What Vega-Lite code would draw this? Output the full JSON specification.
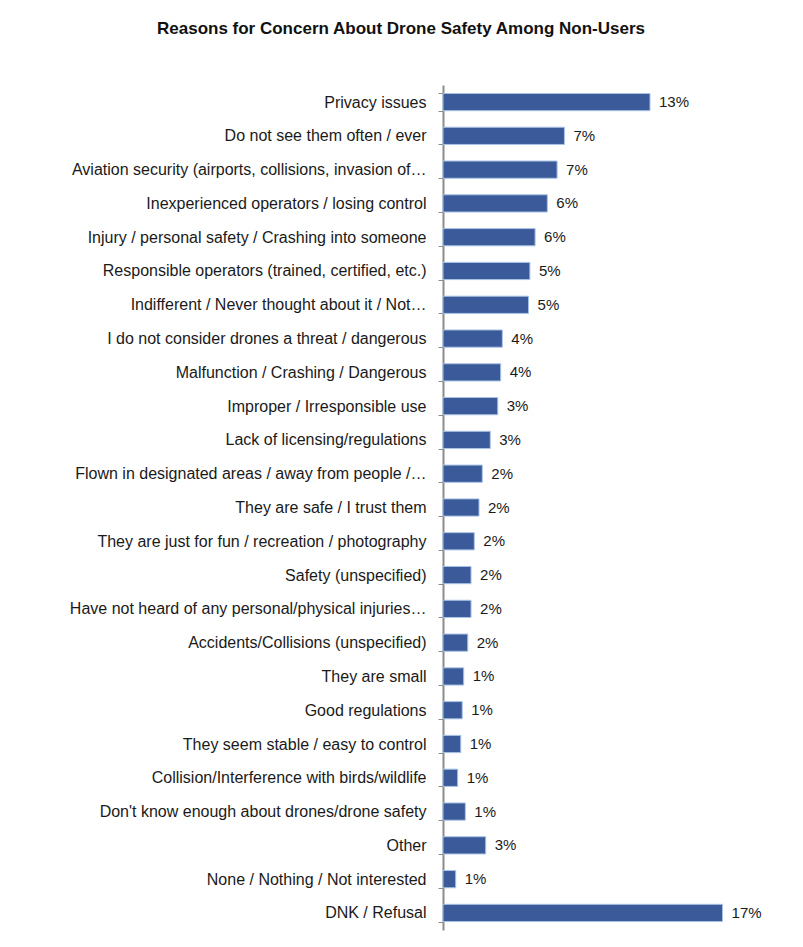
{
  "$schema": "https://vega.github.io/schema/vega-lite/v6.json",
  "padding": {"left": 5, "top": 20, "right": 5, "bottom": 5},
  "background": "white",
  "width": 326,
  "height": 845,
  "title": {
    "text": "Reasons for Concern About Drone Safety Among Non-Users",
    "font": "Liberation Sans",
    "fontSize": 17,
    "fontWeight": "bold",
    "color": "#111111",
    "anchor": "middle",
    "frame": "group",
    "dx": -205,
    "offset": 39
  },
  "data": {
    "values": [
      {"reason": "Privacy issues", "share": 0.127},
      {"reason": "Do not see them often / ever", "share": 0.0745},
      {"reason": "Aviation security (airports, collisions, invasion of…", "share": 0.070},
      {"reason": "Inexperienced operators / losing control", "share": 0.064},
      {"reason": "Injury / personal safety / Crashing into someone", "share": 0.0565},
      {"reason": "Responsible operators (trained, certified, etc.)", "share": 0.0533},
      {"reason": "Indifferent / Never thought about it / Not…", "share": 0.0525},
      {"reason": "I do not consider drones a threat / dangerous", "share": 0.0364},
      {"reason": "Malfunction / Crashing / Dangerous", "share": 0.0354},
      {"reason": "Improper / Irresponsible use", "share": 0.0336},
      {"reason": "Lack of licensing/regulations", "share": 0.029},
      {"reason": "Flown in designated areas / away from people /…", "share": 0.0241},
      {"reason": "They are safe / I trust them", "share": 0.0221},
      {"reason": "They are just for fun / recreation / photography", "share": 0.0192},
      {"reason": "Safety (unspecified)", "share": 0.0172},
      {"reason": "Have not heard of any personal/physical injuries…", "share": 0.0172},
      {"reason": "Accidents/Collisions (unspecified)", "share": 0.0152},
      {"reason": "They are small", "share": 0.0127},
      {"reason": "Good regulations", "share": 0.0118},
      {"reason": "They seem stable / easy to control", "share": 0.0109},
      {"reason": "Collision/Interference with birds/wildlife", "share": 0.009},
      {"reason": "Don't know enough about drones/drone safety", "share": 0.0137},
      {"reason": "Other", "share": 0.0262},
      {"reason": "None / Nothing / Not interested", "share": 0.0078},
      {"reason": "DNK / Refusal", "share": 0.1715}
    ]
  },
  "encoding": {
    "y": {
      "field": "reason",
      "type": "nominal",
      "sort": null,
      "scale": {"paddingInner": 0.49, "paddingOuter": 0.25},
      "axis": {
        "title": null,
        "labelFont": "Liberation Sans",
        "labelFontSize": 16,
        "labelColor": "#1a1a1a",
        "labelPadding": 12,
        "labelLimit": 430,
        "domainColor": "#8c8c8c",
        "domainWidth": 2,
        "ticks": true,
        "tickBand": "extent",
        "tickColor": "#8c8c8c",
        "tickSize": 5,
        "minExtent": 438,
        "maxExtent": 438
      }
    },
    "x": {
      "field": "share",
      "type": "quantitative",
      "scale": {"domain": [0, 0.2]},
      "axis": null
    }
  },
  "layer": [
    {
      "mark": {"type": "bar", "color": "#3b5a9a", "stroke": "#a9c3e6", "strokeWidth": 1}
    },
    {
      "mark": {"type": "text", "align": "left", "dx": 9, "font": "Liberation Sans", "fontSize": 15, "color": "#1a1a1a"},
      "encoding": {"text": {"field": "share", "type": "quantitative", "format": ".0%"}}
    }
  ],
  "config": {"view": {"stroke": null}}
}
